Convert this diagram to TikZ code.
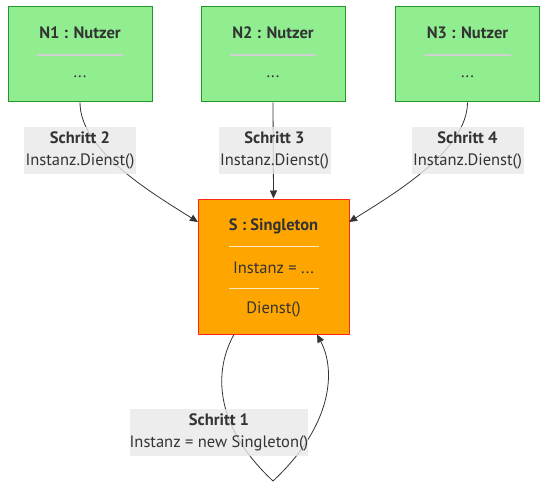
\documentclass[tikz,border=0pt]{standalone}
\usepackage{fontspec}
\setmainfont{PT Sans}
\usetikzlibrary{arrows.meta}
\definecolor{txt}{HTML}{333333}
\definecolor{ngreen}{HTML}{90EE90}
\definecolor{ngreenb}{HTML}{22962B}
\definecolor{sorange}{HTML}{FFA500}
\definecolor{sred}{HTML}{FF2A1A}
\definecolor{lblgray}{HTML}{E8E8E8}
\definecolor{divline}{HTML}{D0D0D0}
\tikzset{
  userbox/.style={draw=ngreenb, fill=ngreen, line width=1pt, minimum width=144pt, minimum height=95pt, inner sep=0pt},
  singbox/.style={draw=sred, fill=sorange, line width=1pt, minimum width=151pt, minimum height=135pt, inner sep=0pt},
  ttl/.style={font=\fontsize{16.5}{19}\selectfont\bfseries, text=txt, inner sep=0pt},
  body/.style={font=\fontsize{16.5}{19}\selectfont, text=txt, inner sep=0pt},
  lbl/.style={fill=lblgray, fill opacity=0.8, text opacity=1, text=txt, font=\fontsize{16.5}{19}\selectfont, align=center, inner sep=0pt, minimum height=47pt},
  divider/.style={draw=divline, line width=1.2pt},
  conn/.style={draw=txt, line width=0.8pt, -{Triangle[length=8pt,width=7pt]}},
  plainconn/.style={draw=txt, line width=0.8pt}
}
\begin{document}
\begin{tikzpicture}[x=1pt,y=-1pt]
\useasboundingbox (0,0) rectangle (556,497);
% user boxes
\node[userbox] (n1) at (80,54.5) {};
\node[userbox] (n2) at (273,54.5) {};
\node[userbox] (n3) at (467.5,54.5) {};
\node[ttl] (n1t) at (80,33) {N1 : Nutzer};
\node[ttl] (n2t) at (273,33) {N2 : Nutzer};
\node[ttl] (n3t) at (467.5,33) {N3 : Nutzer};
\draw[divider] (37,55) -- (123,55);
\draw[divider] (230,55) -- (316,55);
\draw[divider] (424.5,55) -- (510.5,55);
\node[body] (n1b) at (80,77) {...};
\node[body] (n2b) at (273,77) {...};
\node[body] (n3b) at (467.5,77) {...};
% singleton
\node[singbox] (s) at (273.5,266.5) {};
\node[ttl] (st) at (273.5,226) {S : Singleton};
\draw[divider, draw=white!75!sorange] (229,246.5) -- (319,246.5);
\node[body] (sa) at (273.5,268) {Instanz = ...};
\draw[divider, draw=white!75!sorange] (229,288.5) -- (319,288.5);
\node[body] (sm) at (273.5,309) {Dienst()};
% connectors
\coordinate (s1) at (198,222);
\coordinate (s3) at (349,222);
\coordinate (ls) at (234,334.5);
\coordinate (le) at (317,334.5);
\coordinate (lb) at (273,481);
\draw[conn] (n1.south) .. controls (80,150) and (150,192) .. (s1);
\draw[conn] (n2.south) -- (s.north);
\draw[conn] (n3.south) .. controls (467,150) and (397,192) .. (s3);
\draw[plainconn] (ls) .. controls (214,370) and (213,425) .. (lb);
\draw[conn] (lb) .. controls (333,425) and (336,370) .. (le);
% labels
\node[lbl, minimum width=112pt] (l2) at (80,150.5) {\textbf{Schritt 2}\\[3pt]Instanz.Dienst()};
\node[lbl, minimum width=112pt] (l3) at (274.5,150.5) {\textbf{Schritt 3}\\[3pt]Instanz.Dienst()};
\node[lbl, minimum width=112pt] (l4) at (467.5,150.5) {\textbf{Schritt 4}\\[3pt]Instanz.Dienst()};
\node[lbl, minimum width=178pt] (l1) at (219,432.5) {\textbf{Schritt 1}\\[3pt]Instanz = new Singleton()};
\end{tikzpicture}
\end{document}
